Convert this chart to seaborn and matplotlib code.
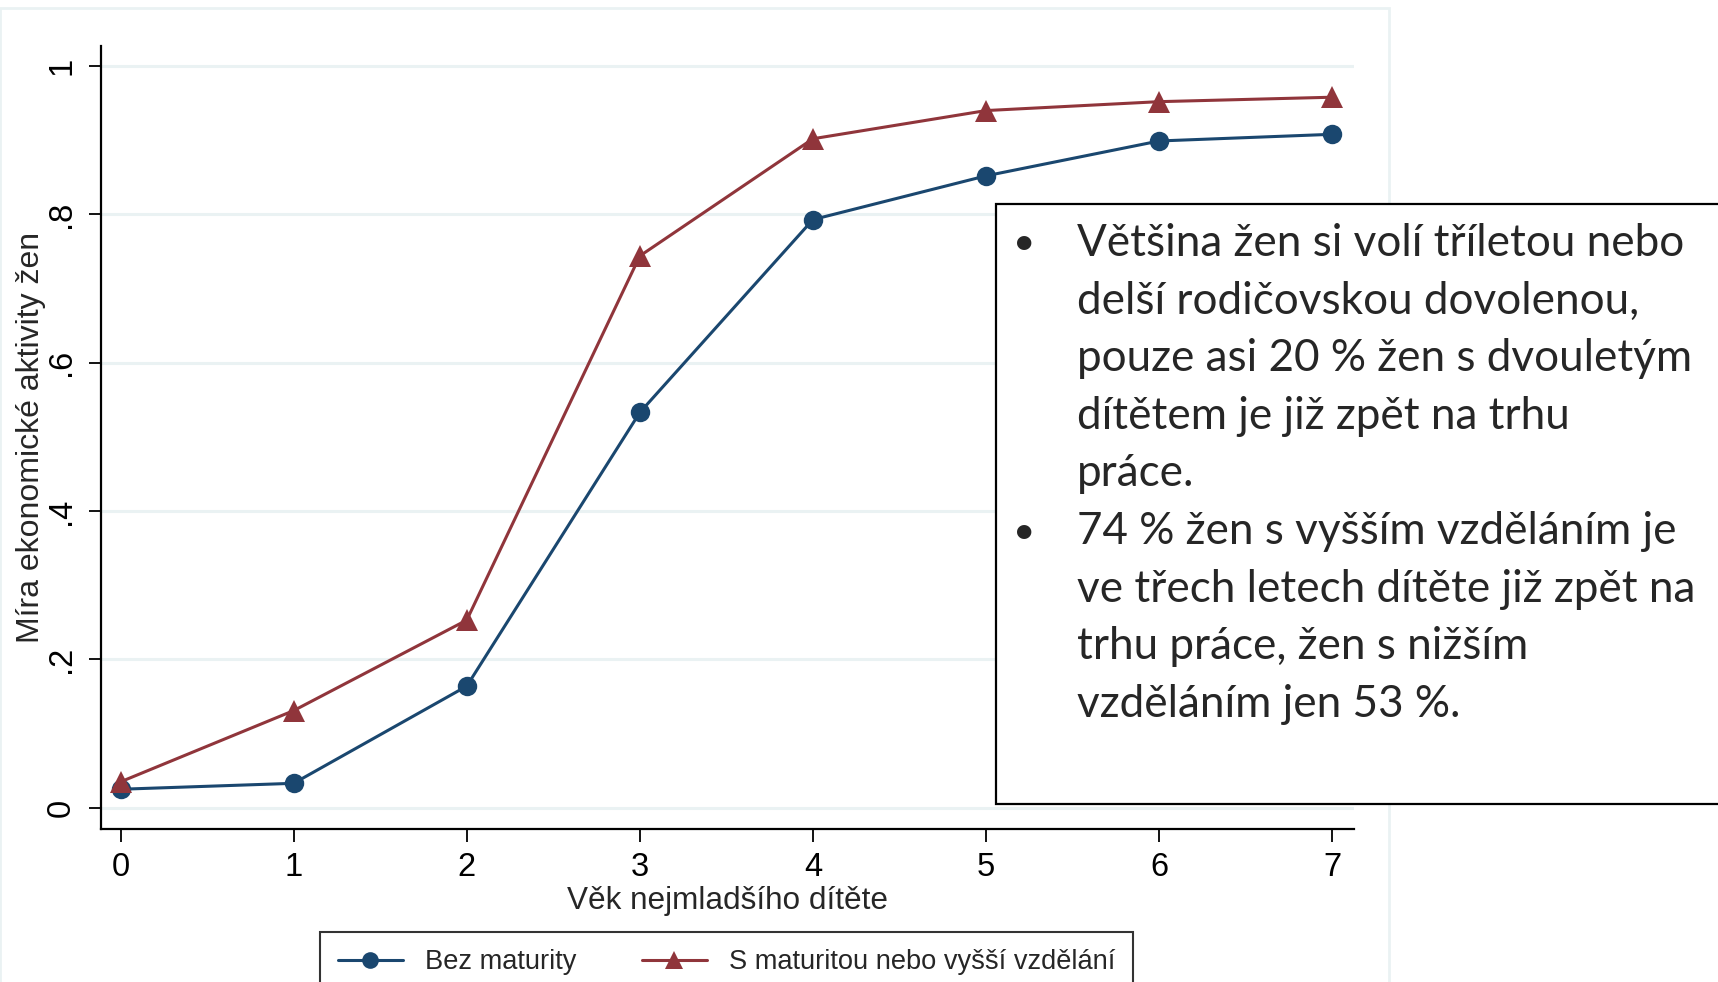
import pandas as pd
import matplotlib.pyplot as plt
import matplotlib.patches as patches
import seaborn as sns

# data
vek = [0, 1, 2, 3, 4, 5, 6, 7]
bez_maturity = [0.025, 0.033, 0.164, 0.533, 0.793, 0.852, 0.899, 0.908]
s_maturitou = [0.035, 0.131, 0.253, 0.744, 0.902, 0.940, 0.952, 0.958]
serie = ['Bez maturity', 'S maturitou nebo vyšší vzdělání']
y_ticks = [0, 0.2, 0.4, 0.6, 0.8, 1]
y_labels = ['0', '.2', '.4', '.6', '.8', '1']

radky = [
    ('•', 'Většina žen si volí tříletou nebo'),
    ('', 'delší rodičovskou dovolenou,'),
    ('', 'pouze asi 20 % žen s dvouletým'),
    ('', 'dítětem je již zpět na trhu'),
    ('', 'práce.'),
    ('•', '74 % žen s vyšším vzděláním je'),
    ('', 've třech letech dítěte již zpět na'),
    ('', 'trhu práce, žen s nižším'),
    ('', 'vzděláním jen 53 %.'),
]

df = pd.DataFrame({
    'vek': vek * 2,
    'mira': bez_maturity + s_maturitou,
    'skupina': [serie[0]] * len(vek) + [serie[1]] * len(vek),
})

sns.set_style('white')
plt.rcParams['font.family'] = ['Liberation Sans', 'DejaVu Sans']

W, H = 1568, 896  # reference coords used for placing things
fig = plt.figure(figsize=(17.18, 9.82), dpi=100)
ax = fig.add_axes([92 / W, 1 - 756 / H, (1236 - 92) / W, (756 - 42) / H])

modra = '#1a476f'
cervena = '#90353b'
sns.lineplot(data=df, x='vek', y='mira', hue='skupina', style='skupina',
             markers={serie[0]: 'o', serie[1]: '^'}, dashes=False,
             palette={serie[0]: modra, serie[1]: cervena},
             markersize=14, markeredgewidth=0, linewidth=2.2, ax=ax, legend=False)
# triangles a bit bigger than circles
ax.lines[1].set_markersize(16)

ax.set_xlim(-0.114, 7.127)
ax.set_ylim(-0.028, 1.027)
ax.set_xticks(vek)
ax.set_yticks(y_ticks)
ax.set_yticklabels(y_labels, rotation=90, va='center')
ax.tick_params(axis='both', direction='out', length=9, width=1.3, labelsize=23.5,
               colors='black', left=True, bottom=True)
ax.tick_params(axis='x', pad=8)
ax.tick_params(axis='y', pad=8)
ax.grid(axis='y', color='#eaf2f3', linewidth=2.2)
ax.set_axisbelow(True)
for s in ['top', 'right']:
    ax.spines[s].set_visible(False)
for s in ['left', 'bottom']:
    ax.spines[s].set_color('black')
    ax.spines[s].set_linewidth(1.6)

ax.set_xlabel('Věk nejmladšího dítěte', fontsize=22.7, labelpad=2)
ax.set_ylabel('Míra ekonomické aktivity žen', fontsize=23, labelpad=0)

# light frame of the graph region
fig.patches.append(patches.Rectangle((0, -0.05), 1268 / W, 1 - 7 / H + 0.05,
                                     transform=fig.transFigure, fill=False,
                                     edgecolor='#eaf2f3', linewidth=2, zorder=0))

# legend
handles = [plt.Line2D([], [], color=modra, marker='o', markersize=12, lw=2.2, mew=0),
           plt.Line2D([], [], color=cervena, marker='^', markersize=13, lw=2.2, mew=0)]
leg = fig.legend(handles, serie, loc='upper center', bbox_to_anchor=(663 / W, 1 - 850 / H),
                 ncol=2, fontsize=19.6, frameon=True, fancybox=False, handlelength=2.4,
                 columnspacing=2.4, borderpad=0.65, borderaxespad=0, edgecolor='black')
leg.get_frame().set_linewidth(1.5)

# text box
fig.patches.append(patches.Rectangle((909 / W, 1 - 734 / H), 0.5, (734 - 186) / H,
                                     transform=fig.transFigure, facecolor='white',
                                     edgecolor='black', linewidth=1.6, zorder=5))
for i, (b, txt) in enumerate(radky):
    y = 1 - (222 + i * 52.6) / H
    if b:
        fig.text(935 / W, y, b, fontsize=28, va='center', ha='center',
                 family=['Lato', 'DejaVu Sans'], zorder=6)
    fig.text(983 / W, y, txt, fontsize=31.7, va='center', ha='left',
             family=['Lato', 'DejaVu Sans'], zorder=6)

fig.savefig('out.png', dpi=100)
